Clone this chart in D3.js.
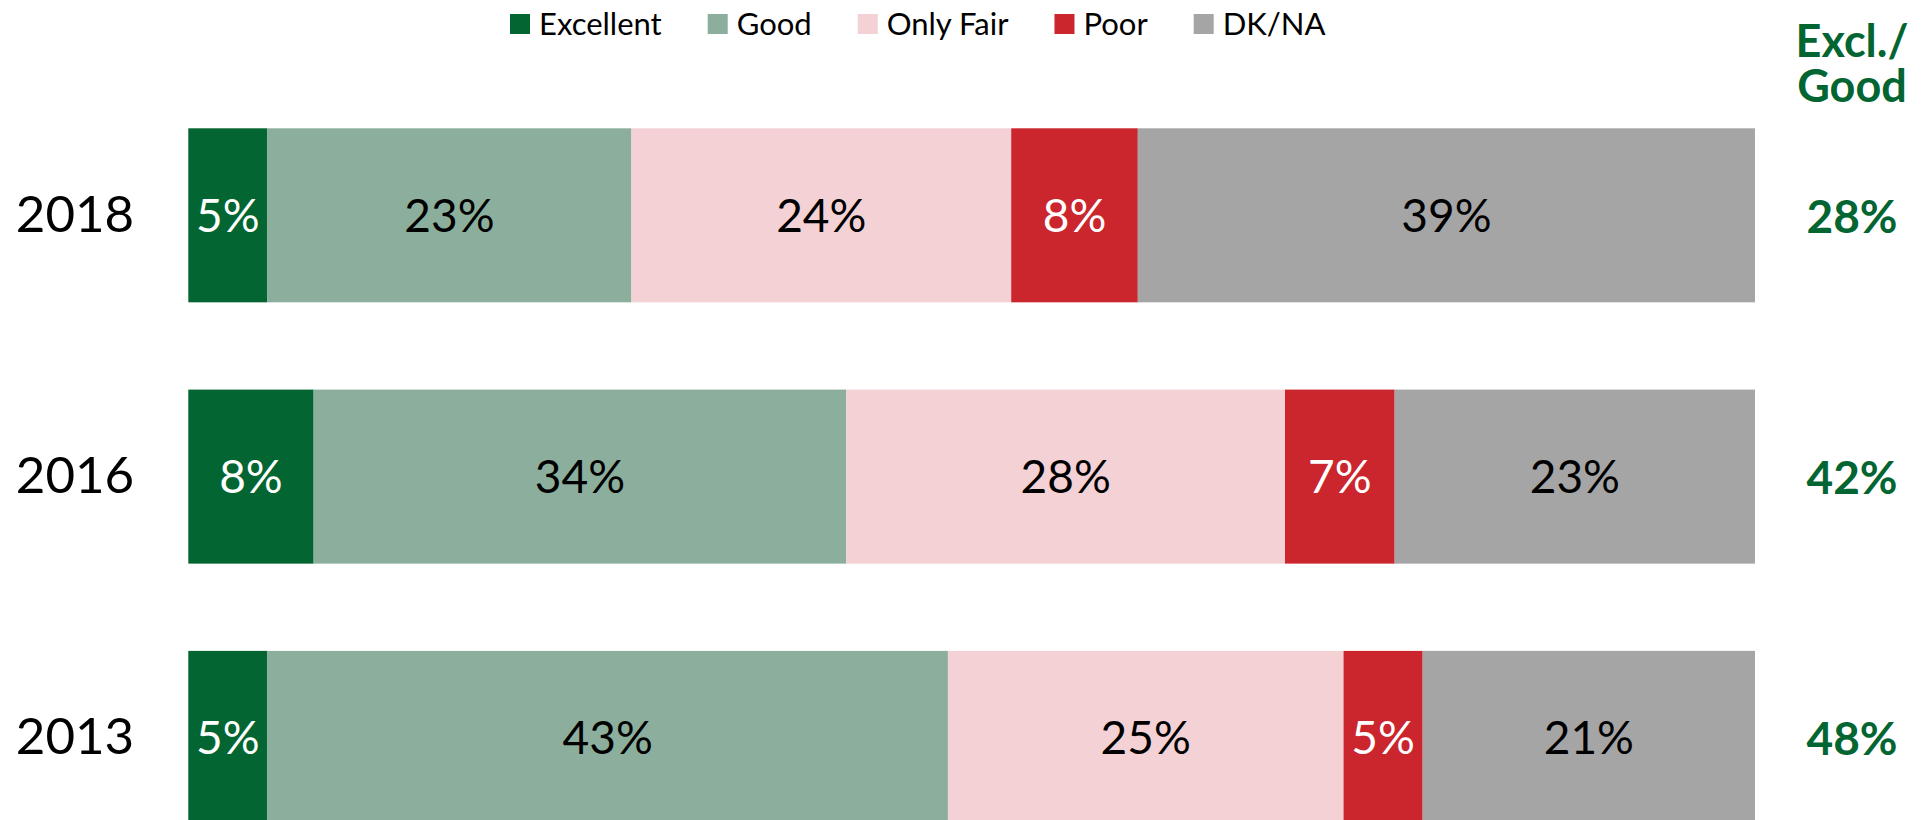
<!DOCTYPE html>
<html>
<head>
<meta charset="utf-8">
<script src="https://cdn.jsdelivr.net/npm/d3@7"></script>
<style>
  html, body { margin: 0; padding: 0; background: #fff; }
  svg { display: block; }
  text { font-family: Lato, "Open Sans", sans-serif; }
</style>
</head>
<body>
<svg id="chart" width="1927" height="820"></svg>
<script>
// Survey years, top to bottom
const years = ["2018", "2016", "2013"];
// Rating categories (stack order, left to right)
const categories = ["Excellent", "Good", "Only Fair", "Poor", "DK/NA"];
// Percentages per category, one entry per year
const excellent = [5, 8, 5];
const good      = [23, 34, 43];
const onlyFair  = [24, 28, 25];
const poor      = [8, 7, 5];
const dkna      = [39, 23, 21];
// Combined Excellent + Good shown in the right-hand column
const exclGood  = [28, 42, 48];
// Right-hand column heading, one entry per line
const headerLines = ["Excl./", "Good"];

const colors = ["#036531", "#8baf9c", "#f4d1d5", "#cb252d", "#a5a5a5"];
const labelColors = ["#ffffff", "#000000", "#000000", "#ffffff", "#000000"];
const green = "#036531";

const seriesValues = [excellent, good, onlyFair, poor, dkna];
const rows = years.map((year, i) => {
  const vals = seriesValues.map(s => s[i]);
  return { year, vals, total: d3.sum(vals), combined: exclGood[i] };
});

const svg = d3.select("#chart");

const plotLeft = 188.3, plotRight = 1755;
const y = d3.scaleBand()
  .domain(years)
  .range([128.3, 128.3 + 261.3 * (years.length - 0.334)])
  .paddingInner(0.334)
  .paddingOuter(0);

// Each row is stacked to 100% of its own total
rows.forEach(row => {
  const x = d3.scaleLinear().domain([0, row.total]).range([plotLeft, plotRight]);
  const stacked = [];
  let acc = 0;
  row.vals.forEach((v, k) => { stacked.push({ k, v, x0: acc, x1: acc + v }); acc += v; });

  const g = svg.append("g").attr("class", "row");
  g.selectAll("rect").data(stacked).join("rect")
    .attr("x", d => x(d.x0))
    .attr("y", y(row.year))
    .attr("width", d => x(d.x1) - x(d.x0))
    .attr("height", y.bandwidth())
    .attr("fill", d => colors[d.k]);

  g.selectAll("text.val").data(stacked).join("text")
    .attr("class", "val")
    .attr("x", d => (x(d.x0) + x(d.x1)) / 2)
    .attr("y", y(row.year) + y.bandwidth() / 2)
    .attr("dy", "0.36em")
    .attr("text-anchor", "middle")
    .attr("font-size", 46)
    .attr("fill", d => labelColors[d.k])
    .text(d => d.v + "%");

  // Year label
  svg.append("text")
    .attr("x", 75)
    .attr("y", y(row.year) + y.bandwidth() / 2 - 2)
    .attr("dy", "0.36em")
    .attr("text-anchor", "middle")
    .attr("font-size", 51)
    .attr("fill", "#000")
    .text(row.year);

  // Excellent + Good total
  svg.append("text")
    .attr("x", 1852)
    .attr("y", y(row.year) + y.bandwidth() / 2 + 1)
    .attr("dy", "0.36em")
    .attr("text-anchor", "middle")
    .attr("font-size", 46)
    .attr("font-weight", 700)
    .attr("fill", green)
    .text(row.combined + "%");
});

// Column header, one text per line
svg.selectAll("text.header").data(headerLines).join("text")
  .attr("class", "header")
  .attr("x", 1852)
  .attr("y", (d, i) => 57 + i * 45)
  .attr("text-anchor", "middle")
  .attr("font-size", 45)
  .attr("font-weight", 700)
  .attr("fill", green)
  .text(d => d);

// Legend, laid out left to right
const legend = svg.append("g").attr("class", "legend");
let lx = 510;
categories.forEach((c, k) => {
  legend.append("rect")
    .attr("x", lx).attr("y", 14).attr("width", 20).attr("height", 20)
    .attr("fill", colors[k]);
  const t = legend.append("text")
    .attr("x", lx + 29).attr("y", 24).attr("dy", "0.36em")
    .attr("font-size", 31)
    .attr("fill", "#000")
    .text(c);
  lx += 29 + t.node().getComputedTextLength() + 46;
});
</script>
</body>
</html>
